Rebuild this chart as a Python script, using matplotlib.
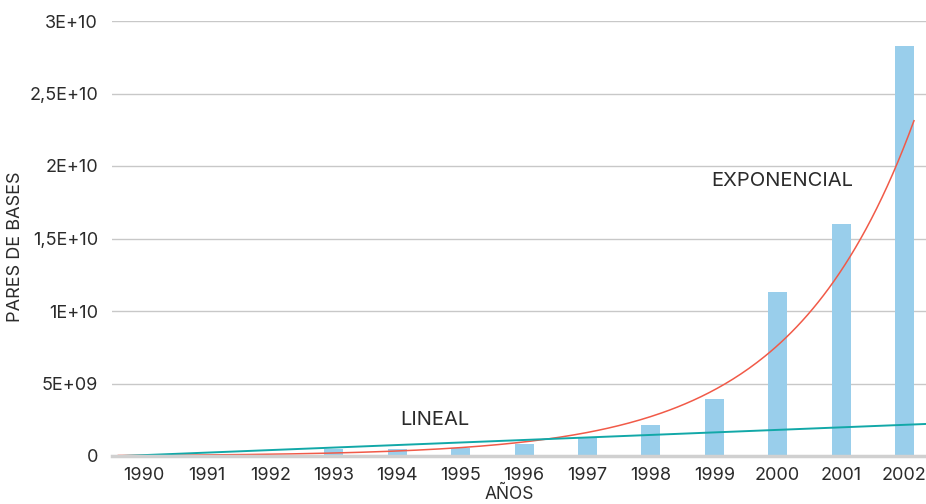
import numpy as np
import matplotlib
matplotlib.use("Agg")
import matplotlib.pyplot as plt
from matplotlib.ticker import FixedLocator, FixedFormatter

plt.rcParams['font.family'] = ['Inter', 'DejaVu Sans']

years = ["1990", "1991", "1992", "1993", "1994", "1995", "1996",
         "1997", "1998", "1999", "2000", "2001", "2002"]
pares_bases = [0.05e9, 0.07e9, 0.10e9, 0.46e9, 0.46e9, 0.53e9, 0.80e9,
               1.34e9, 2.12e9, 3.90e9, 11.3e9, 16.0e9, 28.3e9]
# trendline values at 1990 and 2002
lineal_years = ["1990", "2002"]
lineal_values = [0.06e9, 2.15e9]
exponencial_years = ["1990", "2002"]
exponencial_values = [0.044e9, 21.4e9]

ytick_values = [0, 5e9, 1e10, 1.5e10, 2e10, 2.5e10, 3e10]
ytick_labels = ["0", "5E+09", "1E+10", "1,5E+10", "2E+10", "2,5E+10", "3E+10"]

BAR = "#99CEEB"
RED = "#F15A48"
TEAL = "#12A8A8"
TXT = "#2b2b2b"

fig = plt.figure(figsize=(9.26, 5.04), dpi=100)
ax = fig.add_axes([112/926, 48/504, 814/926, 435/504])

x = np.arange(len(years))
ax.bar(x, pares_bases, width=0.3, color=BAR, zorder=2)

# exponential trendline through the read trend values
ex = [years.index(y) for y in exponencial_years]
b, a = np.polyfit(ex, np.log(exponencial_values), 1)
xe = np.linspace(-0.4, 12.15, 300)
ax.plot(xe, np.exp(a + b * xe), color=RED, lw=1.1, zorder=3)

# linear trendline
lx = [years.index(y) for y in lineal_years]
lb, la = np.polyfit(lx, lineal_values, 1)
xl = np.array([-0.32, 12.5])
ax.plot(xl, la + lb * xl, color=TEAL, lw=1.4, zorder=4)

ax.set_xlim(-0.5, 12.34)
ax.set_ylim(0, 3e10)

ax.yaxis.set_major_locator(FixedLocator(ytick_values))
ax.yaxis.set_major_formatter(FixedFormatter(ytick_labels))
ax.set_xticks(x)
ax.set_xticklabels(years)
ax.tick_params(axis='y', length=0, pad=10, labelsize=13, labelcolor=TXT)
ax.tick_params(axis='x', length=0, pad=8, labelsize=13, labelcolor=TXT)

for v in ytick_values[1:]:
    ax.axhline(v, color="#C8C8C8", lw=1.0, zorder=1)

for s in ["top", "right", "left"]:
    ax.spines[s].set_visible(False)
ax.spines["bottom"].set_color("#D0D0D0")
ax.spines["bottom"].set_linewidth(2.5)
ax.spines["bottom"].set_zorder(5)

ax.set_xlabel("AÑOS", fontsize=12.5, color=TXT)
ax.xaxis.set_label_coords((509 - 112) / 814, -(486 - 456) / 435)
ax.set_ylabel("PARES DE BASES", fontsize=13, color=TXT)
ax.yaxis.set_label_coords(-(112 - 24) / 814, 0.48)

ax.text(10.08, 1.9e10, "EXPONENCIAL", fontsize=14.5, color=TXT, ha="center", va="center")
ax.text(4.6, 2.5e9, "LINEAL", fontsize=14.5, color=TXT, ha="center", va="center")

fig.savefig("out.png", dpi=100)
